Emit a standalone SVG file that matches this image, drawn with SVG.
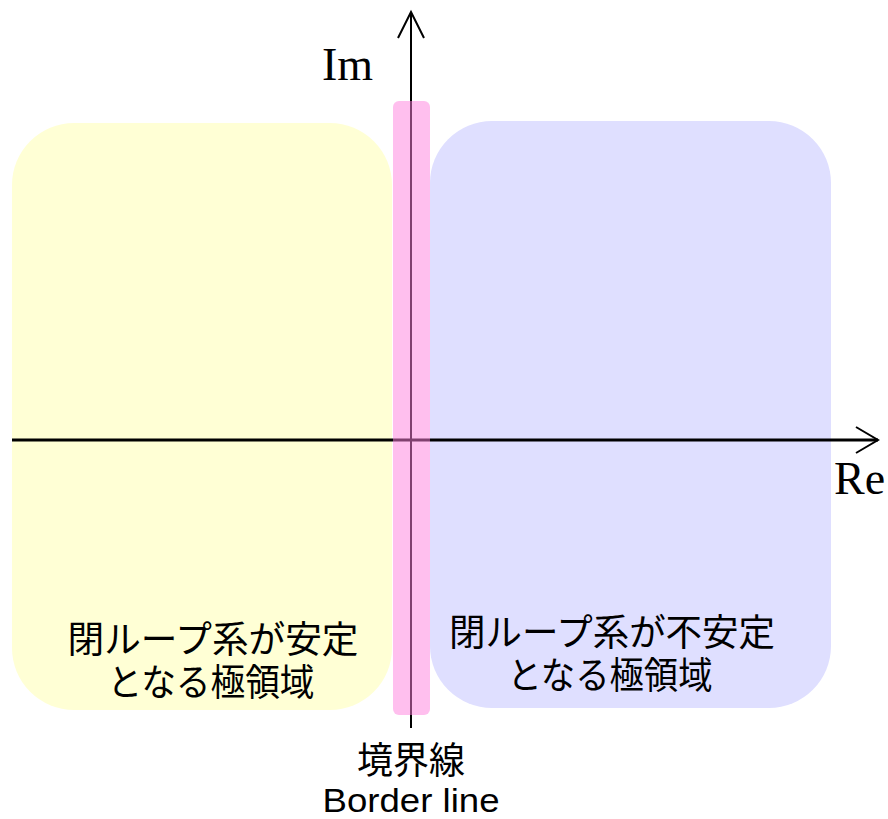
<svg xmlns="http://www.w3.org/2000/svg" width="888" height="819" viewBox="0 0 888 819">
<style>
.jp{font-family:"Liberation Sans","Noto Sans CJK JP",sans-serif;font-size:37px;fill:#000;text-anchor:middle}
.en{font-family:"Liberation Sans",sans-serif;font-size:34px;fill:#000;text-anchor:middle}
.ax{font-family:"Liberation Serif",serif;font-size:46px;fill:#000}
.axis{stroke:#000;fill:none}
</style>
<rect width="888" height="819" fill="#fff"/>
<g id="stable">
<rect x="12" y="123" width="380" height="587" rx="62" ry="62" fill="#ffffd5"/>
<text class="jp" x="213" y="653" textLength="291" lengthAdjust="spacingAndGlyphs">閉ループ系が安定</text>
<text class="jp" x="211" y="696" textLength="207" lengthAdjust="spacingAndGlyphs">となる極領域</text>
</g>
<g id="unstable">
<rect x="430" y="121" width="401" height="587" rx="62" ry="62" fill="#dfdfff"/>
<text class="jp" x="612" y="646" textLength="326" lengthAdjust="spacingAndGlyphs">閉ループ系が不安定</text>
<text class="jp" x="610" y="689" textLength="205" lengthAdjust="spacingAndGlyphs">となる極領域</text>
</g>
<g id="axes">
<line class="axis" x1="12" y1="440" x2="878" y2="440" stroke-width="3"/>
<polyline class="axis" points="856,427 878,440 856,453" stroke-width="2"/>
<line class="axis" x1="411" y1="12" x2="411" y2="728" stroke-width="2"/>
<polyline class="axis" points="398,38 411,12 424,38" stroke-width="2"/>
<text class="ax" x="322" y="80">Im</text>
<text class="ax" x="834" y="494">Re</text>
</g>
<g id="border">
<rect x="393" y="101" width="37" height="614" rx="6" ry="6" fill="#ff80dd" fill-opacity="0.5"/>
<text class="jp" x="411" y="774" textLength="108" lengthAdjust="spacingAndGlyphs">境界線</text>
<text class="en" x="411" y="812" textLength="177" lengthAdjust="spacingAndGlyphs">Border line</text>
</g>
</svg>
